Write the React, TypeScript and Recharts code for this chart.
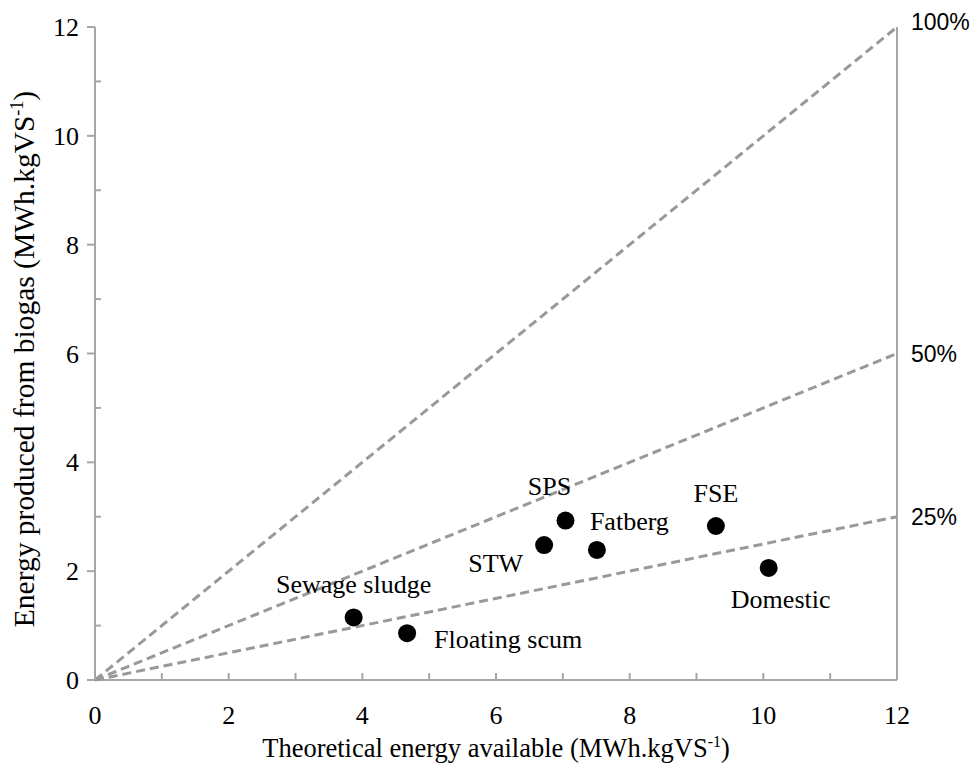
import React from 'react';
import { ScatterChart, Scatter, XAxis, YAxis, ReferenceLine } from 'recharts';

// substrate samples: theoretical energy (x) vs energy from biogas (y)
const sampleNames = ['Sewage sludge', 'Floating scum', 'STW', 'SPS', 'Fatberg', 'FSE', 'Domestic'];
const theoreticalEnergy = [3.87, 4.67, 6.72, 7.04, 7.51, 9.29, 10.08];
const biogasEnergy = [1.15, 0.86, 2.48, 2.93, 2.39, 2.83, 2.06];

// conversion efficiency guide lines, ending at x = 12
const efficiencyLabels = ['100%', '50%', '25%'];
const efficiencyEndY = [12, 6, 3];

const xTicks = [0, 1, 2, 3, 4, 5, 6, 7, 8, 9, 10, 11, 12];
const yTicks = [0, 1, 2, 3, 4, 5, 6, 7, 8, 9, 10, 11, 12];

const SERIF = "'Liberation Serif', 'Times New Roman', Times, serif";
const SANS = "'Liberation Sans', Arial, Helvetica, sans-serif";
const AXIS = '#a6a6a6';
const DASH = '#999999';

const serifText = { fontFamily: SERIF, fontSize: 26 };

// where each point label sits, relative to its dot
const labelPlacement: Record<string, { dx: number; dy: number; anchor: string }> = {
  'Sewage sludge': { dx: 0, dy: -34, anchor: 'middle' },
  'Floating scum': { dx: 27, dy: 6, anchor: 'start' },
  STW: { dx: -21, dy: 18, anchor: 'end' },
  SPS: { dx: -16, dy: -35, anchor: 'middle' },
  Fatberg: { dx: -7, dy: -29, anchor: 'start' },
  FSE: { dx: 0, dy: -33, anchor: 'middle' },
  Domestic: { dx: 12, dy: 31, anchor: 'middle' },
};

// small vertical nudge of the percentage labels at the line ends
const percentNudge: Record<string, number> = { '100%': -5, '50%': 0, '25%': 0 };

const points = sampleNames.map((name, i) => ({
  name,
  x: theoreticalEnergy[i],
  y: biogasEnergy[i],
}));

const guideLines = efficiencyLabels.map((label, i) => [
  { x: 0, y: 0 },
  { x: 12, y: efficiencyEndY[i], label },
]);

const XTick = (props: any) => {
  const { x, y, payload } = props;
  const v = payload.value;
  return (
    <g>
      <line x1={x} y1={y} x2={x} y2={y - 7} stroke={AXIS} strokeWidth={2} />
      {v % 2 === 0 && (
        <text x={x} y={y + 35} dy="0.35em" textAnchor="middle" style={serifText} fill="#000">
          {v}
        </text>
      )}
    </g>
  );
};

const YTick = (props: any) => {
  const { x, y, payload } = props;
  const v = payload.value;
  if (v % 2 !== 0) {
    return <line x1={x} y1={y} x2={x + 6} y2={y} stroke={AXIS} strokeWidth={2} />;
  }
  return (
    <g>
      <line x1={x - 8} y1={y} x2={x} y2={y} stroke={AXIS} strokeWidth={2} />
      <text x={x - 16} y={y} dy="0.35em" textAnchor="end" style={serifText} fill="#000">
        {v}
      </text>
    </g>
  );
};

const SampleDot = (props: any) => {
  const { cx, cy, payload } = props;
  const p = labelPlacement[payload.name];
  return (
    <g>
      <circle cx={cx} cy={cy} r={9} fill="#000" />
      <text x={cx + p.dx} y={cy + p.dy} dy="0.35em" textAnchor={p.anchor} style={serifText} fill="#000">
        {payload.name}
      </text>
    </g>
  );
};

const GuideEnd = (props: any) => {
  const { cx, cy, payload } = props;
  if (!payload || !payload.label) return <g />;
  return (
    <text
      x={cx + 14}
      y={cy + percentNudge[payload.label]}
      dy="0.35em"
      style={{ fontFamily: SANS, fontSize: 23 }}
      fill="#000"
    >
      {payload.label}
    </text>
  );
};

const XTitle = (props: any) => {
  const { viewBox } = props;
  const cx = viewBox.x + viewBox.width / 2;
  return (
    <text x={cx} y={748} dy="0.35em" textAnchor="middle" style={{ fontFamily: SERIF, fontSize: 26.5 }} fill="#000">
      Theoretical energy available (MWh.kgVS
      <tspan style={{ fontSize: 16 }} dy={-10}>-1</tspan>
      <tspan dy={10}>)</tspan>
    </text>
  );
};

const YTitle = () => {
  const cy = 359;
  return (
    <text
      x={24}
      y={cy}
      dy="0.35em"
      textAnchor="middle"
      transform={`rotate(-90, 24, ${cy})`}
      style={{ fontFamily: SERIF, fontSize: 29.5 }}
      fill="#000"
    >
      Energy produced from biogas (MWh.kgVS
      <tspan style={{ fontSize: 18 }} dy={-11}>-1</tspan>
      <tspan dy={11}>)</tspan>
    </text>
  );
};

export default function App() {
  return (
    <div style={{ position: 'absolute', left: 0, top: 0, background: '#fff', fontFamily: SERIF }}>
      <ScatterChart width={971} height={767} margin={{ top: 27, right: 74, bottom: 0, left: 0 }}>
        <XAxis
          type="number"
          dataKey="x"
          domain={[0, 12]}
          ticks={xTicks}
          interval={0}
          height={87}
          tickSize={0}
          tickMargin={0}
          tickLine={false}
          tick={<XTick />}
          axisLine={{ stroke: AXIS, strokeWidth: 2 }}
          label={<XTitle />}
        />
        <YAxis
          type="number"
          dataKey="y"
          domain={[0, 12]}
          ticks={yTicks}
          interval={0}
          width={95}
          tickSize={0}
          tickMargin={0}
          tickLine={false}
          tick={<YTick />}
          axisLine={{ stroke: AXIS, strokeWidth: 2 }}
          label={<YTitle />}
        />
        <ReferenceLine x={12} stroke={AXIS} strokeWidth={2} />
        {guideLines.map((line, i) => (
          <Scatter
            key={efficiencyLabels[i]}
            data={line}
            line={{ stroke: DASH, strokeWidth: 3, strokeDasharray: '9 5' }}
            shape={<GuideEnd />}
            isAnimationActive={false}
          />
        ))}
        <Scatter data={points} shape={<SampleDot />} isAnimationActive={false} />
      </ScatterChart>
    </div>
  );
}
